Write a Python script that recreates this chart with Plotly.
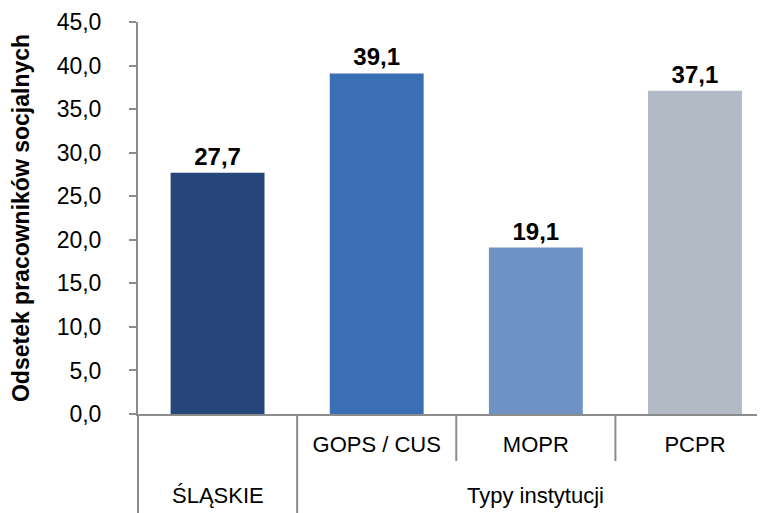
import plotly.graph_objects as go

categories = ["ŚLĄSKIE", "GOPS / CUS", "MOPR", "PCPR"]
inner_labels = ["", "GOPS / CUS", "MOPR", "PCPR"]
group_labels = ["ŚLĄSKIE", "Typy instytucji"]
values = [27.7, 39.1, 19.1, 37.1]
labels = ["27,7", "39,1", "19,1", "37,1"]
colors = ["#26467a", "#3a6fb5", "#6e92c4", "#b2bac6"]
yticks = [0, 5, 10, 15, 20, 25, 30, 35, 40, 45]
yticklabels = ["0,0", "5,0", "10,0", "15,0", "20,0", "25,0", "30,0", "35,0", "40,0", "45,0"]

FONT = "Liberation Sans, Arial"
GRAY = "#8c8c8c"

fig = go.Figure(go.Bar(
    x=categories, y=values, text=labels, textposition="outside",
    textfont=dict(family=FONT, size=24, color="black", weight="bold"),
    marker=dict(color=colors, line=dict(width=0)), width=0.59,
    cliponaxis=False,
))

xr = [-0.5, 3.44]
def px(b):
    return (b - xr[0]) / (xr[1] - xr[0])

shapes = []
# group dividers (full depth) and category dividers (inner level only)
for b, depth in [(-0.5, -0.26), (0.5, -0.26), (1.5, -0.12), (2.5, -0.12)]:
    shapes.append(dict(type="line", xref="paper", yref="paper", x0=px(b), x1=px(b),
                       y0=0, y1=depth, line=dict(color=GRAY, width=2)))

annotations = [
    dict(text=group_labels[0], xref="x", yref="paper", x=0, y=-0.209,
         xanchor="center", yanchor="middle", showarrow=False,
         font=dict(family=FONT, size=22, color="black")),
    dict(text=group_labels[1], xref="x", yref="paper", x=2, y=-0.209,
         xanchor="center", yanchor="middle", showarrow=False,
         font=dict(family=FONT, size=22, color="black")),
]

fig.update_layout(
    width=757, height=505,
    margin=dict(l=130, r=0, t=14, b=99),
    paper_bgcolor="white", plot_bgcolor="white",
    showlegend=False,
    font=dict(family=FONT, size=22, color="black"),
    shapes=shapes, annotations=annotations,
    xaxis=dict(
        range=xr, showline=True, linecolor=GRAY, linewidth=2,
        showgrid=False, ticks="", tickangle=0, automargin=False,
        tickvals=categories, ticktext=inner_labels, ticklabelstandoff=10,
        tickfont=dict(family=FONT, size=22, color="black"),
    ),
    yaxis=dict(
        range=[0, 45], tickvals=yticks, ticktext=yticklabels,
        showline=True, linecolor=GRAY, linewidth=2,
        ticks="outside", ticklen=7, tickcolor=GRAY, tickwidth=2,
        showgrid=False, zeroline=False, automargin=False,
        ticklabelstandoff=23,
        tickfont=dict(family=FONT, size=23, color="black"),
        title=dict(text="Odsetek pracowników socjalnych", standoff=26,
                   font=dict(family=FONT, size=23, color="black", weight="bold")),
    ),
)

fig.write_html("out.html")
